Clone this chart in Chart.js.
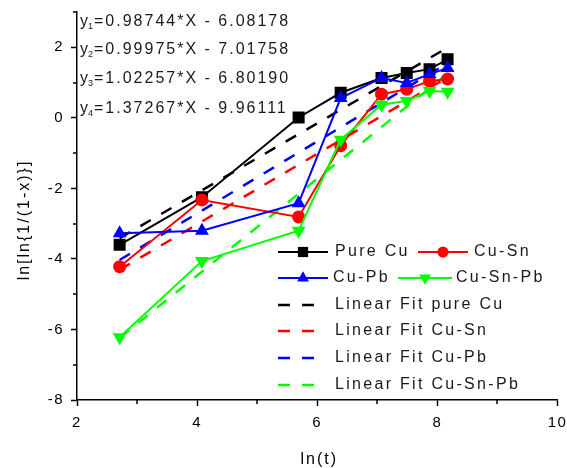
<!DOCTYPE html>
<html>
<head>
<meta charset="utf-8">
<script src="https://cdn.jsdelivr.net/npm/chart.js@4.4.1/dist/chart.umd.min.js"></script>
<style>
  html, body { margin: 0; padding: 0; background: #fff; }
  canvas { display: block; }
</style>
</head>
<body>
<canvas id="chart" width="567" height="468"></canvas>
<script>
// values
const lnT = [2.71, 4.08, 5.69, 6.39, 7.07, 7.49, 7.87, 8.17];
const pureCu = [-3.60, -2.25, 0.01, 0.71, 1.13, 1.27, 1.38, 1.66];
const cuSn = [-4.22, -2.33, -2.81, -0.79, 0.67, 0.81, 1.04, 1.10];
const cuPb = [-3.27, -3.20, -2.42, 0.56, 1.13, 0.99, 1.24, 1.41];
const cuSnPb = [-6.22, -4.06, -3.20, -0.62, 0.37, 0.48, 0.76, 0.74];

// linear fit lines, end points at first and last ln(t)
const fitX = [2.71, 8.17];
const fitPureCu = [-3.41, 1.99];
const fitCuSn = [-4.31, 1.15];
const fitCuPb = [-4.03, 1.55];
const fitCuSnPb = [-6.24, 1.25];

const fitEquations = [
  '0.98744*X - 6.08178',
  '0.99975*X - 7.01758',
  '1.02257*X - 6.80190',
  '1.37267*X - 9.96111',
];

const xTicks = [2, 4, 6, 8, 10];
const xMinor = [3, 5, 7, 9];
const yTicks = [-8, -6, -4, -2, 0, 2];
const yMinor = [-7, -5, -3, -1, 1, 3];

const FONT = '"Liberation Sans", Arial, sans-serif';
Chart.defaults.font.family = FONT;
Chart.defaults.color = '#000';

const pts = (xs, ys) => xs.map((x, i) => ({ x, y: ys[i] }));

function dataSeries(label, ys, color, style, radius, rotation, order) {
  return {
    label,
    data: pts(lnT, ys),
    borderColor: color,
    backgroundColor: color,
    borderWidth: 2,
    pointStyle: style,
    pointRadius: radius,
    pointRotation: rotation,
    pointBorderWidth: 0,
    pointBackgroundColor: color,
    tension: 0,
    order,
  };
}

function fitSeries(label, ys, color, order) {
  return {
    label,
    data: pts(fitX, ys),
    borderColor: color,
    backgroundColor: color,
    borderWidth: 2.5,
    borderDash: [12, 12],
    pointRadius: 0,
    tension: 0,
    order,
  };
}

const datasets = [
  dataSeries('Pure Cu', pureCu, '#000000', 'rect', 8.5, 0, 4),
  dataSeries('Cu-Sn', cuSn, '#ff0000', 'circle', 6.5, 0, 3),
  dataSeries('Cu-Pb', cuPb, '#0000ff', 'triangle', 8, 0, 1),
  dataSeries('Cu-Sn-Pb', cuSnPb, '#00ff00', 'triangle', 8, 180, 2),
  fitSeries('Linear Fit pure Cu', fitPureCu, '#000000', 5),
  fitSeries('Linear Fit Cu-Sn', fitCuSn, '#ff0000', 6),
  fitSeries('Linear Fit Cu-Pb', fitCuPb, '#0000ff', 7),
  fitSeries('Linear Fit Cu-Sn-Pb', fitCuSnPb, '#00ff00', 8),
];

// legend slots: sample start, sample width, row centre, text start
const legendSlots = [
  { x: 278, w: 50, y: 252, tx: 335 },
  { x: 418, w: 50, y: 252, tx: 474 },
  { x: 278, w: 50, y: 278, tx: 333 },
  { x: 398, w: 54, y: 278, tx: 456 },
  { x: 278, w: 36, y: 305, tx: 335 },
  { x: 278, w: 36, y: 331, tx: 335 },
  { x: 278, w: 36, y: 358, tx: 335 },
  { x: 278, w: 36, y: 385, tx: 335 },
];
const eqRows = [22, 50, 79, 109];

function drawEquation(ctx, x, y, idx, text) {
  ctx.letterSpacing = '0px';
  ctx.font = '16px ' + FONT;
  ctx.fillText('y', x, y);
  const w = ctx.measureText('y').width;
  ctx.font = '9px ' + FONT;
  ctx.fillText(String(idx), x + w, y + 5);
  const w2 = ctx.measureText(String(idx)).width;
  ctx.font = '16px ' + FONT;
  ctx.letterSpacing = '2px';
  ctx.fillText('=' + text, x + w + w2 + 1, y);
}

const decor = {
  id: 'decor',
  beforeDraw(chart) {
    chart.ctx.letterSpacing = '1.5px';
  },
  afterDraw(chart) {
    const ctx = chart.ctx;
    const area = chart.chartArea;
    const xs = chart.scales.x;
    const ys = chart.scales.y;
    ctx.save();

    // minor ticks
    ctx.strokeStyle = '#000';
    ctx.lineWidth = 1.5;
    ctx.beginPath();
    xMinor.forEach(v => {
      const px = Math.round(xs.getPixelForValue(v));
      ctx.moveTo(px, area.bottom);
      ctx.lineTo(px, area.bottom + 4);
    });
    yMinor.forEach(v => {
      const py = Math.round(ys.getPixelForValue(v));
      ctx.moveTo(area.left - 4, py);
      ctx.lineTo(area.left, py);
    });
    ctx.stroke();

    // axis titles
    ctx.fillStyle = '#000';
    ctx.textBaseline = 'middle';
    ctx.textAlign = 'center';
    ctx.font = '16px ' + FONT;
    ctx.letterSpacing = '2px';
    ctx.fillText('ln(t)', (area.left + area.right) / 2 + 2, 460);
    ctx.save();
    ctx.translate(25, 220);
    ctx.rotate(-Math.PI / 2);
    ctx.fillText('ln[ln{1/(1-x)}]', 0, 0);
    ctx.restore();

    // fit equations
    ctx.textAlign = 'left';
    ctx.fillStyle = '#1a1a1a';
    fitEquations.forEach((t, i) => drawEquation(ctx, 80, eqRows[i], i + 1, t));

    // legend
    chart.data.datasets.forEach((ds, i) => {
      const s = legendSlots[i];
      ctx.save();
      ctx.strokeStyle = ds.borderColor;
      ctx.lineWidth = ds.borderWidth;
      if (ds.borderDash) ctx.setLineDash([12, 12]);
      ctx.beginPath();
      ctx.moveTo(s.x, s.y);
      ctx.lineTo(s.x + s.w, s.y);
      ctx.stroke();
      ctx.setLineDash([]);
      if (ds.pointRadius > 0) {
        ctx.fillStyle = ds.pointBackgroundColor;
        Chart.helpers.drawPoint(ctx, {
          pointStyle: ds.pointStyle,
          radius: ds.pointRadius * 0.85,
          rotation: ds.pointRotation,
          borderWidth: 0,
        }, s.x + s.w / 2, s.y);
      }
      ctx.restore();
      ctx.fillStyle = '#1a1a1a';
      ctx.font = '16px ' + FONT;
      ctx.letterSpacing = '2.3px';
      ctx.fillText(ds.label, s.tx, s.y);
    });

    ctx.restore();
  },
};

new Chart(document.getElementById('chart').getContext('2d'), {
  type: 'line',
  data: { datasets },
  options: {
    responsive: false,
    animation: false,
    devicePixelRatio: 1,
    layout: { padding: 0 },
    plugins: { legend: { display: false }, tooltip: { enabled: false } },
    scales: {
      x: {
        type: 'linear',
        min: 2,
        max: 10,
        afterFit: s => {
          s.height = 68;
          s.paddingRight = 9.5;
          s.paddingLeft = 0;
        },
        ticks: {
          stepSize: 1,
          autoSkip: false,
          maxRotation: 0,
          padding: 8,
          font: { size: 15 },
          callback: v => (xTicks.includes(v) ? v : ''),
        },
        grid: {
          drawOnChartArea: false,
          tickLength: 6,
          tickWidth: 1.5,
          tickColor: c => (xTicks.includes(c.tick && c.tick.value) ? '#000' : 'rgba(0,0,0,0)'),
        },
        border: { display: true, color: '#000', width: 1.5 },
      },
      y: {
        type: 'linear',
        min: -8,
        max: 3,
        afterFit: s => {
          s.width = 77;
          s.paddingTop = 12;
          s.paddingBottom = 0;
        },
        ticks: {
          stepSize: 1,
          autoSkip: false,
          padding: 7,
          font: { size: 15 },
          callback: v => (yTicks.includes(v) ? v : ''),
        },
        grid: {
          drawOnChartArea: false,
          tickLength: 6,
          tickWidth: 1.5,
          tickColor: c => (yTicks.includes(c.tick && c.tick.value) ? '#000' : 'rgba(0,0,0,0)'),
        },
        border: { display: true, color: '#000', width: 1.5 },
      },
    },
  },
  plugins: [decor],
});
</script>
</body>
</html>
